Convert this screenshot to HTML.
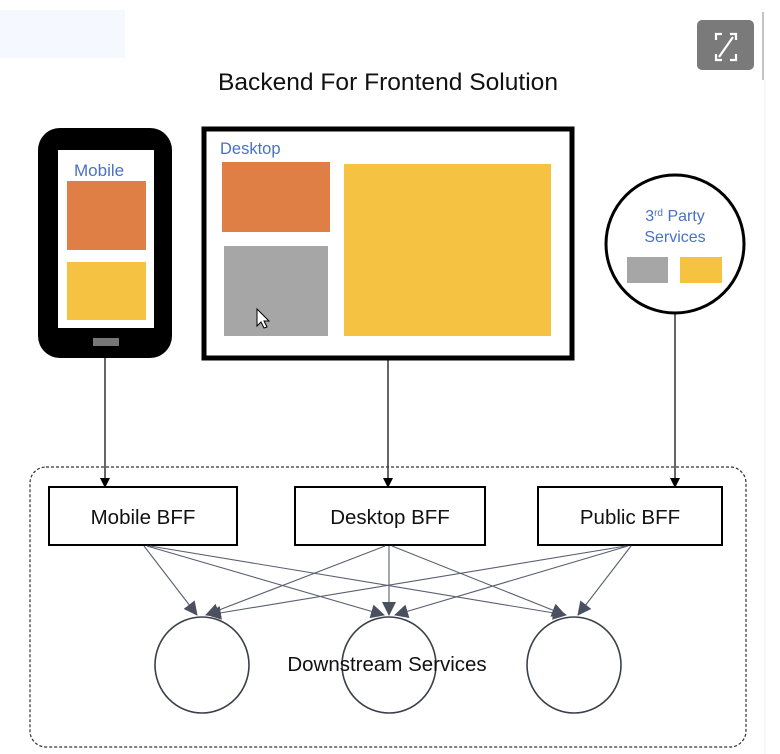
<!DOCTYPE html>
<html><head><meta charset="utf-8"><style>
html,body{margin:0;padding:0;background:#fff;}
svg{display:block;font-family:"Liberation Sans",sans-serif;}
</style></head><body>
<svg width="780" height="754" viewBox="0 0 780 754" xmlns="http://www.w3.org/2000/svg">
<defs>
<marker id="a" markerWidth="10" markerHeight="12" refX="9" refY="5" orient="auto" markerUnits="userSpaceOnUse"><path d="M0,0 L10,5 L0,10 z" fill="#000"/></marker>
<marker id="b" markerWidth="14" markerHeight="14" refX="13" refY="7" orient="auto" markerUnits="userSpaceOnUse"><path d="M0,0 L14,7 L0,14 z" fill="#4a5060"/></marker>
</defs>
<rect x="0" y="10" width="125" height="48" fill="#f6f8ff"/>
<rect x="697" y="20" width="57" height="50" rx="5" fill="#7a7a7a"/>
<g stroke="#fff" stroke-width="2.2" fill="none">
<path d="M716,40 v-6 h6 M736,54 v6 h-6 M716,54 v6 h6 M736,40 v-6 h-6 M719,57 L733,37"/>
</g>
<line x1="763" y1="12" x2="763" y2="80" stroke="#888" stroke-width="1"/>
<line x1="765" y1="80" x2="765" y2="754" stroke="#eee" stroke-width="1"/>
<text x="388" y="90" font-size="24.5" text-anchor="middle" fill="#111" textLength="340" lengthAdjust="spacingAndGlyphs">Backend For Frontend Solution</text>
<!-- phone -->
<rect x="38" y="128" width="134" height="230" rx="22" fill="#000"/>
<rect x="58" y="150" width="96" height="178" fill="#fff"/>
<text x="74" y="176" font-size="17" fill="#4a72c0">Mobile</text>
<rect x="67" y="181" width="79" height="69" fill="#e07f45"/>
<rect x="67" y="262" width="79" height="58" fill="#f5c242"/>
<rect x="93" y="338" width="26" height="8" fill="#777"/>
<!-- desktop -->
<rect x="204" y="129" width="368" height="229" fill="#fff" stroke="#000" stroke-width="5"/>
<text x="220" y="154" font-size="16.5" fill="#4a72c0">Desktop</text>
<rect x="222" y="162" width="108" height="70" fill="#e07f45"/>
<rect x="224" y="246" width="104" height="90" fill="#a6a6a6"/>
<rect x="344" y="164" width="207" height="172" fill="#f5c242"/>
<path d="M257,309 l0,17 l4,-4 l3,6 l3,-1 l-3,-6 l5,0 z" fill="#fff" stroke="#000" stroke-width="1"/>
<!-- 3rd party -->
<circle cx="675" cy="244" r="69" fill="#fff" stroke="#000" stroke-width="3"/>
<text x="675" y="221" font-size="16" fill="#4a72c0" text-anchor="middle">3<tspan font-size="10" dy="-5">rd</tspan><tspan dy="5"> Party</tspan></text>
<text x="675" y="242" font-size="16" fill="#4a72c0" text-anchor="middle">Services</text>
<rect x="627" y="257" width="41" height="26" fill="#a6a6a6"/>
<rect x="680" y="257" width="42" height="26" fill="#f5c242"/>
<!-- vertical arrows -->
<line x1="105" y1="358" x2="105" y2="487" stroke="#000" stroke-width="1.2" marker-end="url(#a)"/>
<line x1="388" y1="360" x2="388" y2="487" stroke="#000" stroke-width="1.2" marker-end="url(#a)"/>
<line x1="675" y1="313" x2="675" y2="487" stroke="#000" stroke-width="1.2" marker-end="url(#a)"/>
<!-- dashed container -->
<rect x="30" y="467" width="716" height="280" rx="16" fill="none" stroke="#333" stroke-width="1.2" stroke-dasharray="3,2"/>
<!-- BFF boxes -->
<g fill="#fff" stroke="#000" stroke-width="2">
<rect x="49" y="487" width="188" height="58"/>
<rect x="295" y="487" width="190" height="58"/>
<rect x="538" y="487" width="184" height="58"/>
</g>
<g font-size="20.5" text-anchor="middle" fill="#111">
<text x="143" y="524">Mobile BFF</text>
<text x="390" y="524">Desktop BFF</text>
<text x="630" y="524">Public BFF</text>
</g>
<!-- fan lines -->
<g stroke="#5a6070" stroke-width="1.1" marker-end="url(#b)">
<line x1="144" y1="546" x2="197" y2="615"/>
<line x1="147" y1="546" x2="384" y2="615"/>
<line x1="150" y1="546" x2="566" y2="615"/>
<line x1="385" y1="546" x2="206" y2="615"/>
<line x1="389" y1="546" x2="389" y2="615"/>
<line x1="392" y1="546" x2="565" y2="615"/>
<line x1="626" y1="546" x2="208" y2="615"/>
<line x1="628" y1="546" x2="395" y2="615"/>
<line x1="631" y1="546" x2="578" y2="615"/>
</g>
<g fill="none" stroke="#3a3f4a" stroke-width="1.6">
<ellipse cx="202" cy="665" rx="47" ry="48"/>
<ellipse cx="389" cy="665" rx="47" ry="48"/>
<ellipse cx="574" cy="665" rx="47" ry="48"/>
</g>
<text x="387" y="671" font-size="20.5" text-anchor="middle" fill="#111">Downstream Services</text>
</svg>
</body></html>
